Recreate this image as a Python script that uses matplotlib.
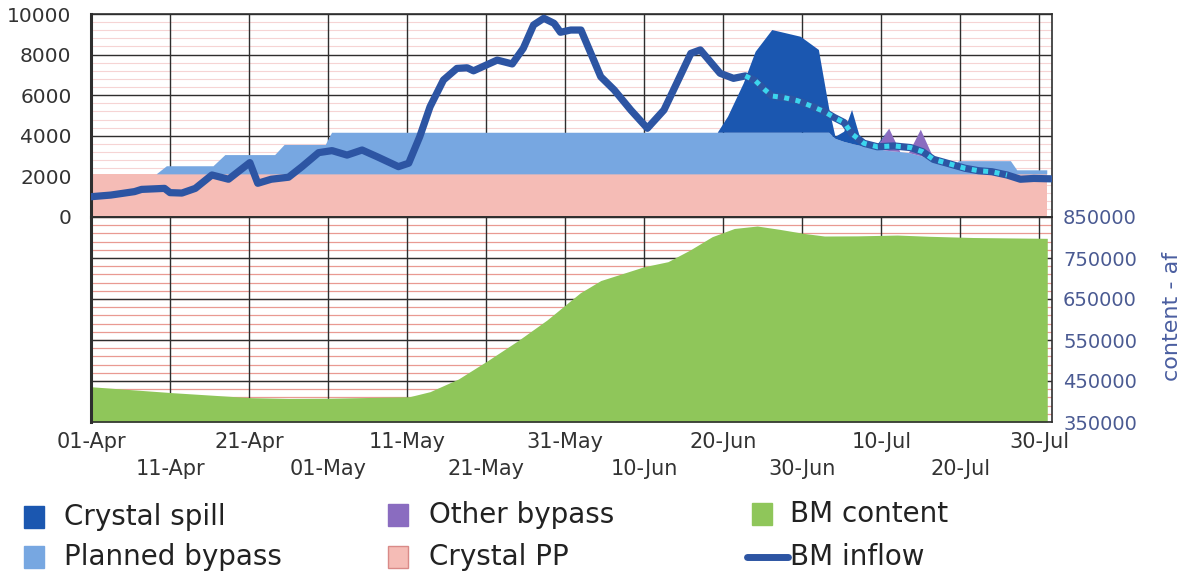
import numpy as np
import matplotlib
matplotlib.use("Agg")
import matplotlib.pyplot as plt
from matplotlib.patches import Rectangle
from matplotlib.lines import Line2D

# days counted from 01-Apr
tick_days = [0, 10, 20, 30, 40, 50, 60, 70, 80, 90, 100, 110, 120]
tick_labels = ["01-Apr", "11-Apr", "21-Apr", "01-May", "11-May", "21-May", "31-May",
               "10-Jun", "20-Jun", "30-Jun", "10-Jul", "20-Jul", "30-Jul"]

# stacked flow areas (cfs), common breakpoints
area_days = [0, 8.3, 9.6, 15.5, 17.0, 23.3, 24.5, 29.7, 30.5, 79.3, 80.6, 82.6, 84.1,
             86.2, 89.8, 92.1, 93.4, 94.2, 95.3, 96.3, 97.4, 99.3, 101.0, 102.4, 103.5,
             105.0, 106.5, 107.9, 109.3, 109.8, 116.4, 117.2, 121.0]
crystal_pp = [2100] * 33
planned_bypass = [0, 0, 400, 400, 950, 950, 1450, 1450, 2050, 2050, 2050, 2050, 2050,
                  2050, 2050, 2050, 2050, 1750, 1600, 1500, 1400, 1250, 1150, 1100, 1050,
                  900, 700, 500, 350, 650, 650, 200, 200]
other_bypass = [0, 0, 0, 0, 0, 0, 0, 0, 0, 0, 0, 0, 0,
                0, 0, 0, 0, 0, 0, 0, 0, 0, 1100, 0, 0,
                1300, 200, 0, 0, 0, 0, 0, 0]
crystal_spill = [0, 0, 0, 0, 0, 0, 0, 0, 0, 0, 790, 2440, 3990,
                 5060, 4730, 4080, 1200, 100, 500, 1670, 300, 100, 0, 0, 0,
                 0, 0, 0, 0, 0, 0, 0, 0]

# BM inflow (cfs)
inflow_days = [0, 2.5, 5.5, 6.4, 9.3, 10, 11.5, 13.2, 15.3, 17.4, 20.1, 21.1, 22.8, 25,
               26.7, 28.8, 30.5, 32.4, 34.3, 36.2, 38.9, 40.2, 41.6, 42.9, 44.6, 46.3,
               47.6, 48.4, 51.4, 53.3, 54.7, 56, 57.3, 58.6, 59.4, 60.7, 62, 64.5, 66.2,
               68.3, 70.4, 72.5, 74.2, 75.9, 77.1, 79.6, 81.3, 82.8, 84.1, 85.2, 86.2,
               87.7, 89.4, 91.1, 92.8, 94, 95.3, 96.3, 97.8, 99.5, 101.6, 103.7, 105.2,
               106.6, 108.7, 110.6, 112.3, 114, 115.9, 117.6, 119.3, 121.4]
bm_inflow = [1000, 1080, 1250, 1360, 1410, 1200, 1180, 1410, 2070, 1860, 2680, 1660, 1860,
             1960, 2480, 3170, 3270, 3050, 3300, 2970, 2480, 2650, 3960, 5430, 6750, 7320,
             7350, 7200, 7730, 7540, 8310, 9460, 9790, 9540, 9100, 9210, 9210, 6910, 6260,
             5270, 4370, 5270, 6660, 8060, 8230, 7080, 6830, 6950, 6700, 6290, 5960,
             5880, 5730, 5470, 5190, 4910, 4650, 4090, 3630, 3460, 3500, 3420, 3220,
             2840, 2610, 2400, 2280, 2230, 2070, 1860, 1900, 1880]
forecast_start, forecast_end = 82.8, 115.9

# BM content (af)
content_days = [0, 10.3, 20.3, 25, 30.3, 40.3, 42.9, 46.5, 50.3, 54, 57.7, 61.9, 64.5,
                70, 73, 75.8, 78.6, 81.4, 84.3, 87.1, 90.2, 92.8, 97, 102, 106, 111.6,
                116, 121]
bm_content = [436000, 421500, 409300, 407500, 408000, 411700, 424000, 455000, 501000,
              548000, 598800, 665000, 695000, 728800, 741000, 769500, 802000, 822000,
              828000, 820000, 810000, 803600, 804000, 806000, 803000, 800000, 799000,
              798000]

W, H = 1185, 577
fig = plt.figure(figsize=(W / 100, H / 100), dpi=100)
left, right = 91, 1052
ax_top = fig.add_axes([left / W, 1 - 217 / H, (right - left) / W, (217 - 14) / H])
ax_bot = fig.add_axes([left / W, 1 - 422 / H, (right - left) / W, (422 - 217) / H],
                      sharex=ax_top)

grid_color = "#2e2e2e"
tick_color = "#333333"
right_color = "#4a5a92"

# top panel
ax_top.hlines(np.arange(400, 10000, 400), 0, 122, color="#f6d4d4", lw=0.8, zorder=0.2)
ax_top.stackplot(area_days, crystal_pp, planned_bypass, other_bypass, crystal_spill,
                 colors=["#f5bcb6", "#77a7e1", "#8a6cc0", "#1b57b0"], lw=0, zorder=1)
ax_top.plot(inflow_days, bm_inflow, color="#2d55a3", lw=5.2, solid_joinstyle="round",
            solid_capstyle="round", zorder=3)
fd = np.array(inflow_days)
fv = np.array(bm_inflow)
mask = (fd >= forecast_start) & (fd <= forecast_end)
ax_top.plot(fd[mask], fv[mask], color="#3cd6ee", lw=3.6, linestyle=(0, (1.0, 1.3)),
            zorder=4)
ax_top.set_ylim(0, 10000)
ax_top.set_yticks(range(0, 10001, 2000))
ax_top.tick_params(axis="y", length=0, pad=14, labelsize=14.5, labelcolor=tick_color)
ax_top.tick_params(axis="x", which="both", length=0, labelbottom=False)
ax_top.set_axisbelow(True)
ax_top.grid(True, which="both", color=grid_color, lw=1.0)

# bottom panel
ax_bot.hlines(np.arange(350000, 850001, 20000), 0, 122, color="#e99a92", lw=0.9, zorder=0.2)
ax_bot.fill_between(content_days, 350000, bm_content, color="#8fc65a", lw=0, zorder=1)
ax_bot.set_ylim(350000, 850000)
ax_bot.set_yticks(range(350000, 850001, 100000))
ax_bot.yaxis.tick_right()
ax_bot.tick_params(axis="y", length=0, pad=8, labelsize=14, labelcolor=right_color)
ax_bot.set_axisbelow(True)
ax_bot.grid(True, which="both", color=grid_color, lw=1.0)

ax_bot.set_xlim(0, 121.6)
ax_bot.set_xticks(tick_days[0::2])
ax_bot.set_xticklabels(tick_labels[0::2])
ax_bot.set_xticks(tick_days[1::2], minor=True)
ax_bot.set_xticklabels(tick_labels[1::2], minor=True)
ax_bot.tick_params(axis="x", which="major", length=0, pad=7, labelsize=15,
                   labelcolor=tick_color)
ax_bot.tick_params(axis="x", which="minor", length=0, pad=26.5, labelsize=15,
                   labelcolor=tick_color)

for ax in (ax_top, ax_bot):
    for s in ax.spines.values():
        s.set_color(grid_color)
        s.set_linewidth(1.2)
    ax.spines["left"].set_linewidth(2.2)

fig.text(1172 / W, 1 - 316 / H, "content - af", rotation=90, ha="center", va="center",
         fontsize=16, color="#4a5ea0")

# legend
lax = fig.add_axes([0, 0, 1, 1])
lax.set_xlim(0, W)
lax.set_ylim(H, 0)
lax.axis("off")
legend_items = [
    ("Crystal spill", "#1b57b0", 24, 64, 517),
    ("Planned bypass", "#77a7e1", 24, 64, 557),
    ("Other bypass", "#8a6cc0", 388, 429, 515),
    ("Crystal PP", "#f5bcb6", 388, 429, 557),
    ("BM content", "#8fc65a", 752, 790, 514),
]
for label, color, hx, tx, ty in legend_items:
    edge = "#d98a88" if label == "Crystal PP" else color
    lax.add_patch(Rectangle((hx, ty - 11), 20, 22, facecolor=color, edgecolor=edge, lw=1))
    lax.text(tx, ty, label, va="center", ha="left", fontsize=20, color="#222222")
lax.add_line(Line2D([747, 788], [557, 557], color="#2d55a3", lw=5, solid_capstyle="round"))
lax.text(790, 557, "BM inflow", va="center", ha="left", fontsize=20, color="#222222")

fig.savefig("out.png", dpi=100)
